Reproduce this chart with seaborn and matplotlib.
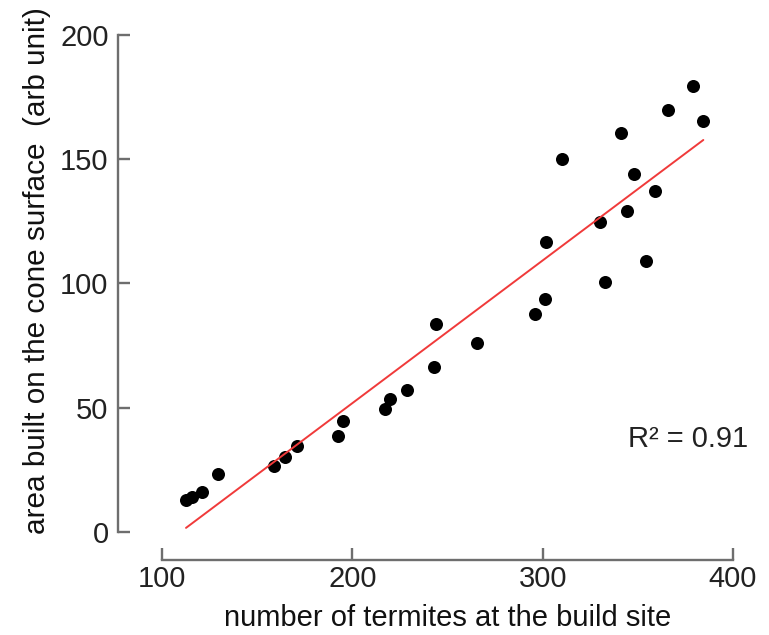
import matplotlib
matplotlib.use("Agg")
import matplotlib.pyplot as plt
import seaborn as sns
import pandas as pd

# values
termites = [112.6, 115.5, 121.0, 129.4, 158.9, 164.6, 170.9, 192.5, 195.1,
            217.2, 219.8, 228.8, 242.9, 244.0, 265.5, 296.2, 301.3, 301.8,
            310.2, 330.2, 332.8, 341.0, 344.2, 348.0, 354.3, 359.2, 366.1,
            379.2, 384.4]
area = [12.9, 14.2, 16.0, 23.3, 26.7, 30.1, 34.6, 38.8, 44.8,
        49.4, 53.6, 57.1, 66.5, 83.7, 75.9, 87.7, 93.8, 116.6,
        150.1, 124.6, 100.5, 160.4, 129.3, 144.1, 109.2, 137.2, 169.8,
        179.5, 165.4]
x_ticks = [100, 200, 300, 400]
y_ticks = [0, 50, 100, 150, 200]
r2_label = "R\u00b2 = 0.91"

sns.set_theme(style="ticks")
plt.rcParams['font.family'] = ['Liberation Sans', 'DejaVu Sans']

df = pd.DataFrame({"termites": termites, "area": area})

AXIS_GREY = "#6e6e6e"
TEXT = "#222222"

fig = plt.figure(figsize=(7.69, 6.35), dpi=100)
ax = fig.add_axes([0.2107, 0.1622, 0.7425, 0.7827])

sns.regplot(data=df, x="termites", y="area", ci=None, truncate=True, ax=ax,
            scatter_kws=dict(s=88, color="black", linewidths=0, alpha=1),
            line_kws=dict(color="#f03a3a", lw=1.4))

ax.set_xlim(100, 400)
ax.set_ylim(0, 200)
ax.set_xticks(x_ticks)
ax.set_yticks(y_ticks)
sns.despine(ax=ax, offset={'left': 32, 'bottom': 20}, trim=True)

for side in ["left", "bottom"]:
    ax.spines[side].set_color(AXIS_GREY)
    ax.spines[side].set_linewidth(1.7)
ax.tick_params(direction="in", length=8.6, width=1.7, color=AXIS_GREY,
               labelsize=21, labelcolor=TEXT)
ax.tick_params(axis="y", pad=6.5)
ax.tick_params(axis="x", pad=4)

ax.set_xlabel("number of termites at the build site", fontsize=21,
              color="#111111", labelpad=8)
ax.set_ylabel("area built on the cone surface  (arb unit)", fontsize=21.4,
              color="#111111")
ax.yaxis.set_label_coords(-0.194, 0.527)

ax.text(344.9, 34.2, r2_label, fontsize=21, color=TEXT, va="baseline")

fig.savefig("out.png", dpi=100)
